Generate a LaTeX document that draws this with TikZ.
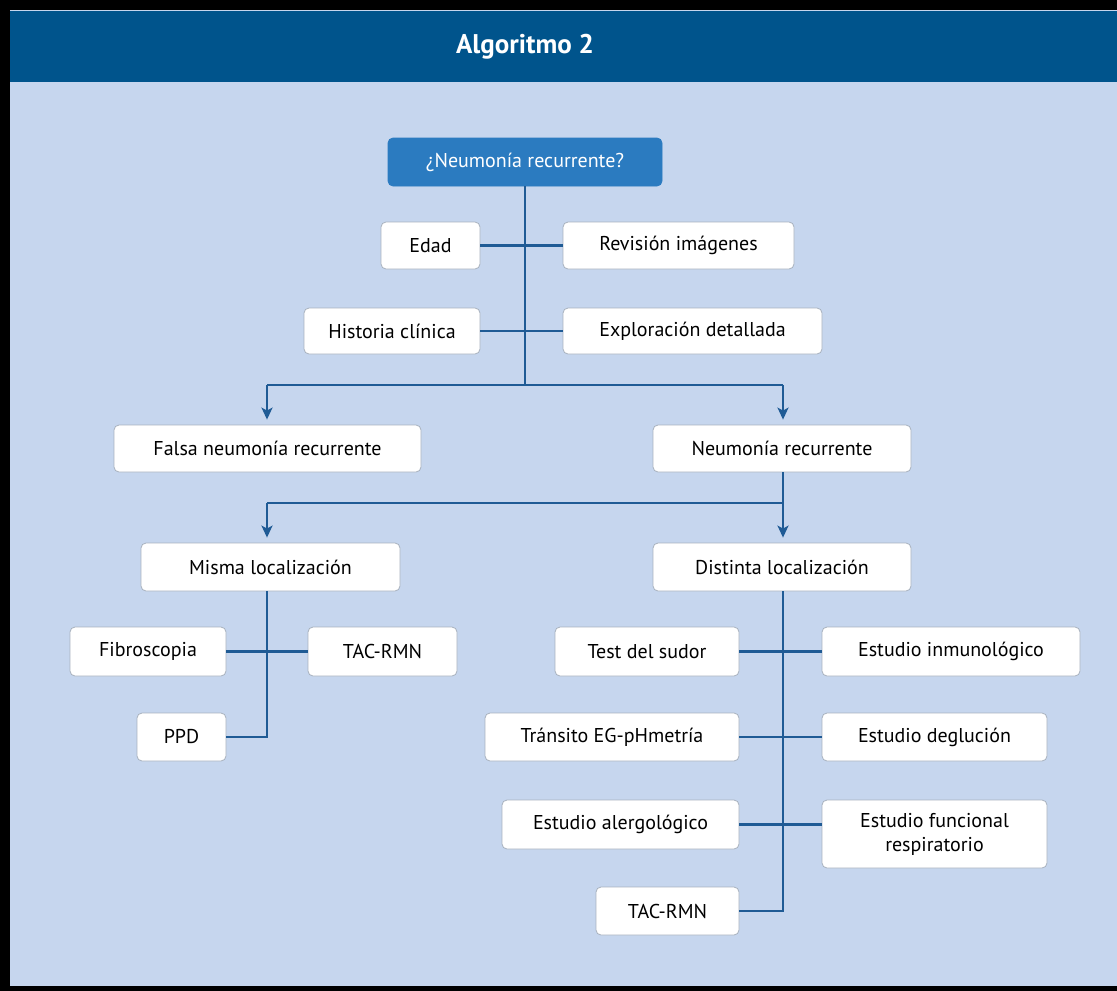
\documentclass[tikz,border=0pt]{standalone}
\usepackage{fontspec}
\setmainfont{PT Sans}
\usetikzlibrary{arrows.meta}
\definecolor{hdr}{HTML}{00548C}
\definecolor{bg}{HTML}{C6D6EE}
\definecolor{topbox}{HTML}{2B7BC0}
\definecolor{ln}{HTML}{1F5B95}
\definecolor{bord}{HTML}{A8B2BE}
\tikzset{
  box/.style={draw=bord, line width=0.8pt, fill=white, rounded corners=5pt, inner sep=0pt, align=center, font=\fontsize{20}{24}\selectfont, text=black},
  lnk/.style={draw=ln, line width=2.4pt},
  arr/.style={lnk, -{Stealth[length=12pt,width=11pt,inset=3pt]}, shorten >=5pt},
}
\begin{document}
\begin{tikzpicture}[x=1pt,y=-1pt]
\useasboundingbox (0,0) rectangle (1117,991);
\fill[black] (0,0) rectangle (1117,991);
\fill[bg] (10,10) rectangle (1117,986);
\fill[hdr] (10,11) rectangle (1117,82);
\node[text=white, font=\fontsize{27}{32}\selectfont\bfseries] (title) at (525,47) {Algoritmo 2};

\node[box, fill=topbox, draw=topbox, text=white, minimum width=274pt, minimum height=48pt] (top) at (525,162) {¿Neumonía recurrente?};
\node[box, minimum width=99pt, minimum height=47pt] (edad) at (430.5,245.5) {Edad};
\node[box, minimum width=231pt, minimum height=47pt] (rev) at (678.5,245.5) {Revisión imágenes};
\node[box, minimum width=176pt, minimum height=46pt] (hist) at (392,331) {Historia clínica};
\node[box, minimum width=259pt, minimum height=46pt] (expl) at (692.5,331) {Exploración detallada};
\node[box, minimum width=307pt, minimum height=47pt] (falsa) at (267.5,448.5) {Falsa neumonía recurrente};
\node[box, minimum width=258pt, minimum height=47pt] (neum) at (782,448.5) {Neumonía recurrente};
\node[box, minimum width=259pt, minimum height=48pt] (misma) at (270.5,567) {Misma localización};
\node[box, minimum width=258pt, minimum height=48pt] (dist) at (782,567) {Distinta localización};
\node[box, minimum width=156pt, minimum height=49pt] (fibro) at (148,651.5) {Fibroscopia};
\node[box, minimum width=149pt, minimum height=49pt] (tac1) at (382.5,651.5) {TAC-RMN};
\node[box, minimum width=89pt, minimum height=48pt] (ppd) at (181.5,737) {PPD};
\node[box, minimum width=184pt, minimum height=49pt] (test) at (647,651.5) {Test del sudor};
\node[box, minimum width=258pt, minimum height=49pt] (inmu) at (951,651.5) {Estudio inmunológico};
\node[box, minimum width=254pt, minimum height=48pt] (trans) at (612,737) {Tránsito EG-pHmetría};
\node[box, minimum width=225pt, minimum height=48pt] (degl) at (934.5,737) {Estudio deglución};
\node[box, minimum width=237pt, minimum height=49pt] (alerg) at (620.5,824.5) {Estudio alergológico};
\node[box, minimum width=225pt, minimum height=68pt] (func) at (934.5,834) {Estudio funcional\\respiratorio};
\node[box, minimum width=143pt, minimum height=48pt] (tac2) at (667.5,911) {TAC-RMN};

\coordinate (j1) at (525,385);
\coordinate (j1l) at (267,385);
\coordinate (j1r) at (783,385);
\coordinate (j2) at (783,503);
\coordinate (j2l) at (267,503);

\draw[lnk] (top.south) -- (j1);
\draw[lnk] (edad.east) -- (rev.west);
\draw[lnk] (hist.east) -- (expl.west);
\draw[lnk] (j1l) -- (j1r);
\draw[arr] (j1l) -- (j1l |- falsa.north);
\draw[arr] (j1r) -- (j1r |- neum.north);
\draw[lnk] (j1r |- neum.south) -- (j2) -- (j2l);
\draw[arr] (j2l) -- (j2l |- misma.north);
\draw[arr] (j2) -- (j2 |- dist.north);
\draw[lnk] (j2l |- misma.south) |- (ppd.east);
\draw[lnk] (fibro.east) -- (tac1.west);
\draw[lnk] (j2 |- dist.south) |- (tac2.east);
\draw[lnk] (test.east) -- (inmu.west);
\draw[lnk] (trans.east) -- (degl.west);
\draw[lnk] (alerg.east) -- (alerg.east -| func.west);
\end{tikzpicture}
\end{document}
